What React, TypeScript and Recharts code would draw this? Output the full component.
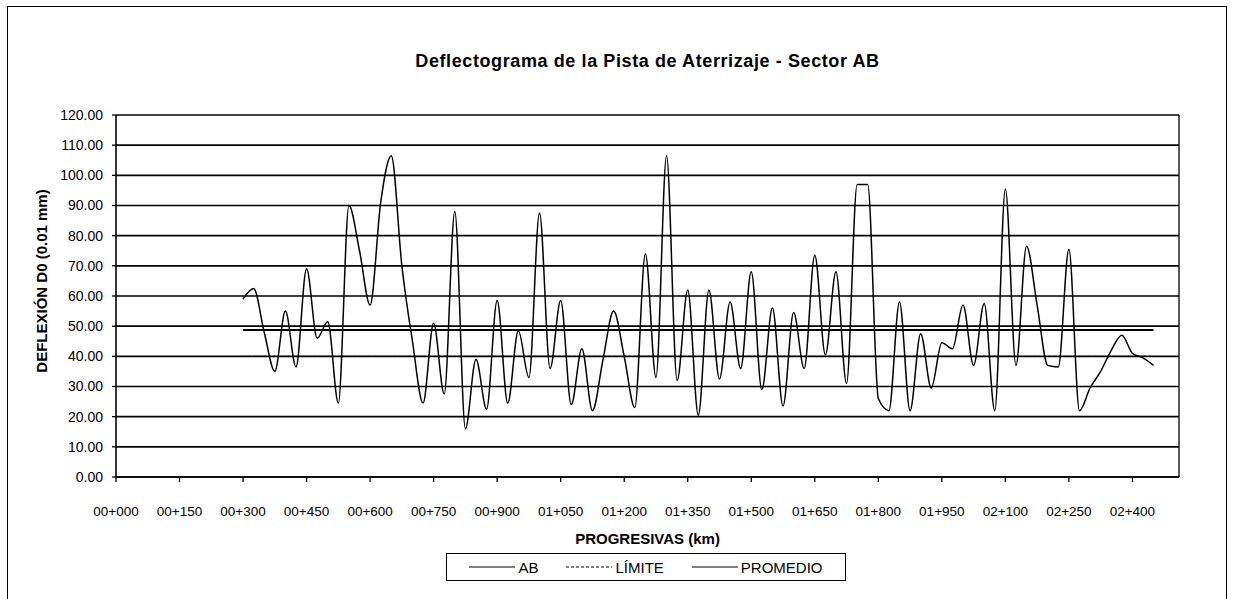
import React from 'react';
import { LineChart, Line, XAxis, YAxis, CartesianGrid, ReferenceLine, Label } from 'recharts';

const FONT = '"Liberation Sans", Arial, sans-serif';

// progresivas in metres (every 25 m)
const PROGRESIVAS = [
  300, 325, 350, 375, 400, 425, 450, 475, 500, 525,
  550, 575, 600, 625, 650, 675, 700, 725, 750, 775,
  800, 825, 850, 875, 900, 925, 950, 975, 1000, 1025,
  1050, 1075, 1100, 1125, 1150, 1175, 1200, 1225, 1250, 1275,
  1300, 1325, 1350, 1375, 1400, 1425, 1450, 1475, 1500, 1525,
  1550, 1575, 1600, 1625, 1650, 1675, 1700, 1725, 1750, 1775,
  1800, 1825, 1850, 1875, 1900, 1925, 1950, 1975, 2000, 2025,
  2050, 2075, 2100, 2125, 2150, 2175, 2200, 2225, 2250, 2275,
  2300, 2325, 2350, 2375, 2400, 2425, 2450,
];

// deflexion D0 (0.01 mm), sector AB
const AB = [
  59, 62.5, 48, 35, 55, 36.5, 69, 46, 51.5, 24.5,
  90, 75, 57, 91, 106.5, 70, 45, 24.5, 51, 27.5,
  88, 16, 39, 22.5, 58.5, 24.5, 48.5, 33, 87.5, 36,
  58.5, 24, 42.5, 22, 39, 55, 40, 23, 74, 33,
  106.5, 32, 62, 20.5, 62, 32.5, 58, 36, 68, 29,
  56, 23.5, 54.5, 36, 73.5, 40.5, 68, 31, 97, 97,
  26, 22, 58, 22, 47.5, 29.5, 44.5, 42.5, 57, 37,
  57.5, 22, 95.5, 37, 76.5, 57, 37, 36.5, 75.5, 22,
  29.5, 35, 42, 47, 41, 39.5, 37,
];

const PROMEDIO = 48.7;
const LIMITE = 40;

const X_TICKS = [0, 150, 300, 450, 600, 750, 900, 1050, 1200, 1350, 1500, 1650, 1800, 1950, 2100, 2250, 2400];
const Y_TICKS = [0, 10, 20, 30, 40, 50, 60, 70, 80, 90, 100, 110, 120];
const X_MAX = 2510;

const data = PROGRESIVAS.map((m, i) => ({ m, ab: AB[i], limite: LIMITE, promedio: PROMEDIO }));

const fmtProg = (m: number) =>
  `${String(Math.floor(m / 1000)).padStart(2, '0')}+${String(m % 1000).padStart(3, '0')}`;

const LEGEND = [
  { name: 'AB', dash: undefined as string | undefined, width: 1.2 },
  { name: 'LÍMITE', dash: '3 2', width: 1 },
  { name: 'PROMEDIO', dash: undefined as string | undefined, width: 1.2 },
];

const YTitle = (props: any) => {
  const { viewBox } = props;
  const cx = viewBox.x + 25;
  const cy = viewBox.y + viewBox.height / 2 - 15;
  return (
    <text
      x={cx}
      y={cy}
      transform={`rotate(-90, ${cx}, ${cy})`}
      textAnchor="middle"
      dominantBaseline="central"
      fontFamily={FONT}
      fontSize={15}
      fontWeight="bold"
      fill="#000"
    >
      DEFLEXIÓN D0 (0.01 mm)
    </text>
  );
};

export default function App() {
  return (
    <div style={{ position: 'absolute', left: 0, top: 0, width: 1233, height: 599, background: '#fff', overflow: 'hidden', fontFamily: FONT }}>
      {/* outer frame */}
      <div style={{ position: 'absolute', left: 7, top: 6, width: 1218, height: 620, border: '1px solid #000' }} />

      <div style={{ position: 'absolute', left: 116, top: 50, width: 1063, textAlign: 'center', fontSize: 18, fontWeight: 'bold', lineHeight: '22px', letterSpacing: 0.6 }}>
        Deflectograma de la Pista de Aterrizaje - Sector AB
      </div>

      <div style={{ position: 'absolute', left: 0, top: 0 }}>
        <LineChart width={1233} height={599} data={data} margin={{ top: 115, right: 54, bottom: 47, left: 16 }}>
          <CartesianGrid vertical={false} stroke="#000" strokeWidth={1.6} />
          <XAxis
            dataKey="m"
            type="number"
            domain={[0, X_MAX]}
            ticks={X_TICKS}
            tickFormatter={fmtProg}
            height={75}
            tickSize={5}
            tickMargin={24}
            axisLine={{ stroke: '#000', strokeWidth: 1.6 }}
            tickLine={{ stroke: '#000', strokeWidth: 1.3 }}
            tick={{ fill: '#000', fontSize: 13.5, fontFamily: FONT }}
            allowDataOverflow
          >
            <Label
              value="PROGRESIVAS (km)"
              position="insideBottom"
              offset={8}
              style={{ fontFamily: FONT, fontSize: 15, fontWeight: 'bold', fill: '#000' }}
            />
          </XAxis>
          <YAxis
            domain={[0, 120]}
            ticks={Y_TICKS}
            tickFormatter={(v: number) => v.toFixed(2)}
            width={100}
            tickSize={4}
            tickMargin={9}
            axisLine={{ stroke: '#000', strokeWidth: 1.6 }}
            tickLine={{ stroke: '#000', strokeWidth: 1.3 }}
            tick={{ fill: '#000', fontSize: 14, fontFamily: FONT }}
          >
            <Label content={<YTitle />} />
          </YAxis>
          <ReferenceLine x={X_MAX} stroke="#000" strokeWidth={1.3} ifOverflow="visible" />
          <Line dataKey="limite" type="linear" stroke="#000" strokeWidth={1} strokeDasharray="3 2" dot={false} isAnimationActive={false} />
          <Line dataKey="promedio" type="linear" stroke="#000" strokeWidth={2} dot={false} isAnimationActive={false} />
          <Line dataKey="ab" type="monotone" stroke="#000" strokeWidth={1.5} dot={false} isAnimationActive={false} />
        </LineChart>
      </div>

      {/* legend */}
      <div
        style={{
          position: 'absolute', left: 446, top: 553, width: 400, height: 28, boxSizing: 'border-box',
          border: '1px solid #000', display: 'flex', alignItems: 'center', justifyContent: 'center', gap: 28, fontSize: 15,
        }}
      >
        {LEGEND.map((item) => (
          <div key={item.name} style={{ display: 'flex', alignItems: 'center', gap: 3 }}>
            <svg width={46} height={6}>
              <line x1={0} y1={3} x2={46} y2={3} stroke="#000" strokeWidth={item.width} strokeDasharray={item.dash} />
            </svg>
            <span>{item.name}</span>
          </div>
        ))}
      </div>
    </div>
  );
}
